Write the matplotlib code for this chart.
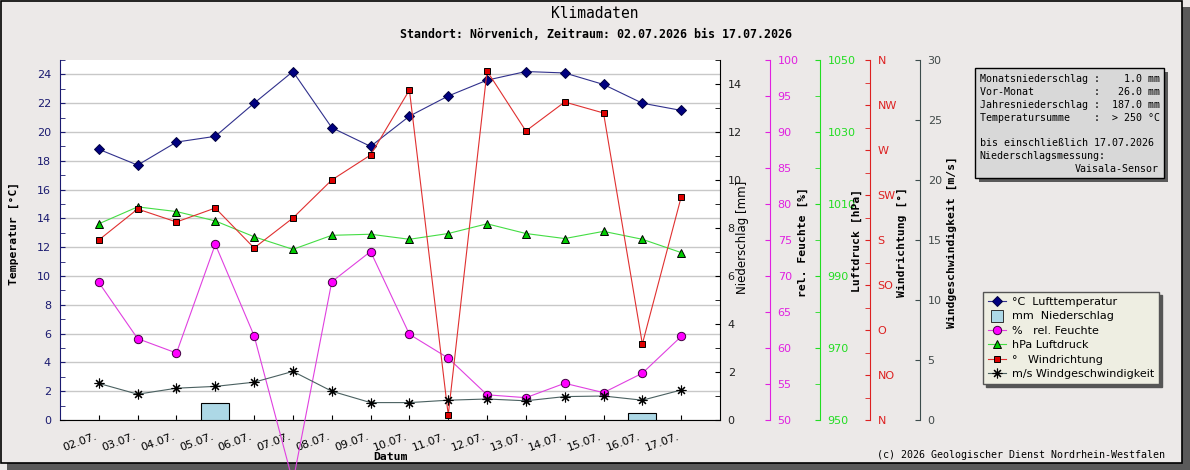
import matplotlib
matplotlib.use("Agg")
import matplotlib.pyplot as plt
import matplotlib.transforms as mtransforms
import numpy as np
from matplotlib.lines import Line2D
from matplotlib.patches import Rectangle
from matplotlib.ticker import MultipleLocator, FixedLocator

# --- data --------------------------------------------------------------
dates = ["02.07.", "03.07.", "04.07.", "05.07.", "06.07.", "07.07.", "08.07.", "09.07.",
         "10.07.", "11.07.", "12.07.", "13.07.", "14.07.", "15.07.", "16.07.", "17.07."]
temperature = [18.8, 17.7, 19.3, 19.7, 22.0, 24.2, 20.3, 19.0,
               21.1, 22.5, 23.6, 24.2, 24.1, 23.3, 22.0, 21.5]
precipitation = [0.0, 0.0, 0.0, 0.7, 0.0, 0.0, 0.0, 0.0,
                 0.0, 0.0, 0.0, 0.0, 0.0, 0.0, 0.3, 0.0]
humidity = [69.1, 61.3, 59.3, 74.4, 61.7, 41.4, 69.2, 73.4,
            61.9, 58.6, 53.5, 53.1, 55.1, 53.8, 56.5, 61.6]
pressure = [1004.5, 1009.2, 1007.9, 1005.3, 1000.9, 997.4, 1001.3, 1001.6,
            1000.2, 1001.8, 1004.5, 1001.8, 1000.4, 1002.4, 1000.2, 996.5]
wind_direction = [180, 211, 198, 212, 172, 202, 240, 265,
                  330, 5, 349, 289, 318, 307, 76, 223]
wind_speed = [3.05, 2.15, 2.65, 2.8, 3.15, 4.05, 2.4, 1.45,
              1.45, 1.65, 1.75, 1.6, 1.95, 2.0, 1.65, 2.5]
compass_labels = ["N", "NO", "O", "SO", "S", "SW", "W", "NW", "N"]

info_lines = [
    "Monatsniederschlag :    1.0 mm",
    "Vor-Monat          :   26.0 mm",
    "Jahresniederschlag :  187.0 mm",
    "Temperatursumme    :  > 250 °C",
    "",
    "bis einschließlich 17.07.2026",
    "Niederschlagsmessung:",
]
sensor_name = "Vaisala-Sensor"
legend_labels = ["°C  Lufttemperatur", "mm  Niederschlag", "%   rel. Feuchte",
                 "hPa Luftdruck", "°   Windrichtung", "m/s Windgeschwindigkeit"]

# --- style --------------------------------------------------------------
W, H = 1190, 470
BG = "#ece9e8"
NAVY = "#1a1a70"
MAGENTA = "#e020e0"
GREEN = "#22dd22"
RED = "#dd2020"
SLATE = "#3c4c4c"
MONO = "DejaVu Sans Mono"

plt.rcParams["font.family"] = "DejaVu Sans"


def fx(px):
    return px / W


def fy(py):
    return 1 - py / H


fig = plt.figure(figsize=(W / 100, H / 100), dpi=100, facecolor=BG)

# outer frame with shadow
fig.add_artist(Rectangle((fx(7), fy(470)), fx(1183), 463 / H, transform=fig.transFigure,
                         facecolor="#5a5a5a", edgecolor="none", zorder=-3))
fig.add_artist(Rectangle((fx(0.5), fy(463)), fx(1181), 462.5 / H, transform=fig.transFigure,
                         facecolor=BG, edgecolor="black", lw=1.2, zorder=-2))

ax = fig.add_axes([fx(60), fy(420), 660 / W, 360 / H])
x = np.arange(len(dates))
ax.set_xlim(-1, len(dates))
ax.set_ylim(0, 25)
ax.set_facecolor("white")
ax.grid(axis="y", color="#c8c8c8", lw=1)
ax.set_axisbelow(True)
ax.yaxis.set_major_locator(MultipleLocator(2))
ax.yaxis.set_minor_locator(MultipleLocator(1))
ax.tick_params(axis="y", which="both", direction="in", length=3.6, color=NAVY,
               labelcolor=NAVY, labelsize=8, pad=6.5)
ax.tick_params(axis="x", direction="in", length=3.6, labelsize=8, pad=8.5)
ax.set_xticks(x)
ax.set_xticklabels(dates, rotation=20, ha="right", va="top", rotation_mode="anchor")
shift = mtransforms.ScaledTranslation(-4 / 100, 0, fig.dpi_scale_trans)
for lbl in ax.get_xticklabels():
    lbl.set_transform(lbl.get_transform() + shift)
ax.spines["top"].set_visible(False)
ax.spines["right"].set_visible(False)
ax.spines["left"].set_color(NAVY)

ax.set_ylabel("Temperatur [°C]", fontfamily=MONO, fontweight="bold", fontsize=8.2,
              va="center", ha="center")
ax.yaxis.set_label_coords(-0.0697, 0.519)
ax.set_xlabel("Datum", fontfamily=MONO, fontweight="bold", fontsize=8.2,
              va="center", ha="center")
ax.xaxis.set_label_coords(0.5, -0.103)


def make_twin(offset_px, color, ylim, label, label_x, label_y, bold=True):
    tw = ax.twinx()
    tw.set_ylim(*ylim)
    for side in ("left", "top", "bottom"):
        tw.spines[side].set_visible(False)
    tw.spines["right"].set_position(("outward", offset_px * 0.72))
    tw.spines["right"].set_color(color)
    tw.tick_params(axis="y", which="both", direction="in", length=3.6, color=color,
                   labelcolor=color, labelsize=8, pad=5.5)
    if bold:
        tw.set_ylabel(label, fontfamily=MONO, fontweight="bold", fontsize=8.2,
                      va="center", ha="center", rotation=90)
    else:
        tw.set_ylabel(label, fontsize=8.5, va="center", ha="center", rotation=90)
    tw.yaxis.set_label_coords(label_x, label_y)
    return tw


ax_p = make_twin(0, "black", (0, 15), "Niederschlag [mm]", 1.034, 0.508, bold=False)
ax_p.yaxis.set_major_locator(MultipleLocator(2))
ax_p.yaxis.set_minor_locator(MultipleLocator(1))
ax_p.tick_params(labelcolor="#202020")

ax_h = make_twin(50, MAGENTA, (50, 100), "rel. Feuchte [%]", 1.1258, 0.494)
ax_h.yaxis.set_major_locator(MultipleLocator(5))

ax_l = make_twin(100, GREEN, (950, 1050), "Luftdruck [hPa]", 1.2076, 0.5)
ax_l.yaxis.set_major_locator(FixedLocator(np.arange(950, 1051, 20)))
ax_l.yaxis.set_minor_locator(FixedLocator(np.arange(960, 1050, 20)))

ax_d = make_twin(150, RED, (0, 360), "Windrichtung [°]", 1.2758, 0.494)
ax_d.set_yticks(np.arange(0, 361, 45))
ax_d.set_yticklabels(compass_labels)
ax_d.yaxis.set_minor_locator(MultipleLocator(22.5))

ax_w = make_twin(200, SLATE, (0, 30), "Windgeschwindigkeit [m/s]", 1.3515, 0.494)
ax_w.yaxis.set_major_locator(MultipleLocator(5))
ax_w.tick_params(labelcolor="#404848")

# --- series -------------------------------------------------------------
rain_idx = [i for i, v in enumerate(precipitation) if v > 0]
ax_p.bar([x[i] for i in rain_idx], [precipitation[i] for i in rain_idx], width=0.72,
         color="#add8e6", edgecolor="black", lw=0.8)

l_temp, = ax.plot(x, temperature, color="#30308c", lw=0.8, marker="D", ms=5,
                  mfc="#000080", mec="#000040", mew=0.7)
l_hum, = ax_h.plot(x, humidity, color="#e040e0", lw=0.8, marker="o", ms=6,
                   mfc="#ff00ff", mec="#400040", mew=0.7, clip_on=False)
l_pres, = ax_l.plot(x, pressure, color="#44dd44", lw=0.8, marker="^", ms=6,
                    mfc="#00cc00", mec="black", mew=0.7)
l_dir, = ax_d.plot(x, wind_direction, color="#e03030", lw=0.8, marker="s", ms=5,
                   mfc="#dd0000", mec="black", mew=0.7)
l_wind, = ax_w.plot(x, wind_speed, color="#4a6060", lw=0.8, marker=(8, 2, 0), ms=7,
                    mfc="black", mec="black", mew=0.8)

rain_handle = Line2D([], [], ls="none", marker="s", ms=8, mfc="#add8e6", mec="#303030", mew=0.7)
fig.legend([l_temp, rain_handle, l_hum, l_pres, l_dir, l_wind], legend_labels,
           loc="upper left", bbox_to_anchor=(fx(983), fy(292)), bbox_transform=fig.transFigure,
           borderaxespad=0, fancybox=False, shadow={"color": "#555555", "alpha": 1},
           facecolor="#eeeee2", edgecolor="#555555", framealpha=1, fontsize=8,
           handlelength=1.6, handletextpad=0.55, borderpad=0.45, labelspacing=0.4)

# --- info box -----------------------------------------------------------
fig.add_artist(Rectangle((fx(979), fy(182)), 189 / W, 110 / H, transform=fig.transFigure,
                         facecolor="#5a5a5a", edgecolor="none"))
fig.add_artist(Rectangle((fx(975), fy(178)), 189 / W, 110 / H, transform=fig.transFigure,
                         facecolor="#d8d8d8", edgecolor="black", lw=1))
for i, line in enumerate(info_lines):
    fig.text(fx(979.5), fy(79 + i * 12.85), line, fontfamily=MONO, fontsize=7.2,
             va="center", ha="left")
fig.text(fx(1159), fy(79 + len(info_lines) * 12.85), sensor_name, fontfamily=MONO,
         fontsize=7.2, va="center", ha="right")

# --- titles and footer --------------------------------------------------
fig.text(fx(595), fy(14), "Klimadaten", fontfamily=MONO, fontsize=10.5, ha="center", va="center")
fig.text(fx(595.5), fy(34), "Standort: Nörvenich, Zeitraum: 02.07.2026 bis 17.07.2026",
         fontfamily=MONO, fontweight="bold", fontsize=8.4, ha="center", va="center")
fig.text(fx(1165), fy(455), "(c) 2026 Geologischer Dienst Nordrhein-Westfalen",
         fontfamily=MONO, fontsize=7.2, ha="right", va="center")

fig.savefig("out.png", dpi=100, facecolor=BG)
